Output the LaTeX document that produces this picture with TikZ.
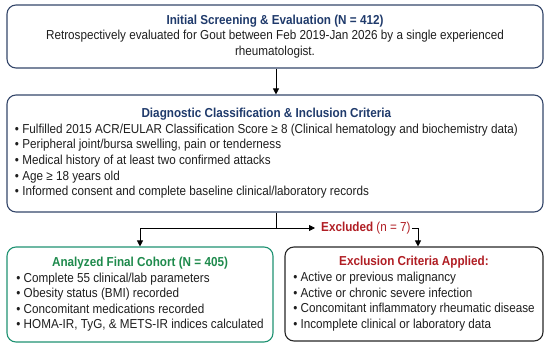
\documentclass[tikz,border=0pt]{standalone}
\usepackage{fontspec}
\setmainfont[FakeStretch=0.9]{Liberation Sans}
\usetikzlibrary{arrows.meta,positioning}

\definecolor{navyline}{HTML}{34466A}
\definecolor{navytext}{HTML}{1F3A6B}
\definecolor{cohortgreen}{HTML}{1E9272}
\definecolor{cohorttext}{HTML}{1E8A4C}
\definecolor{exclred}{HTML}{B01E24}
\definecolor{bodytext}{HTML}{1E1E1E}

\newcommand{\boxhead}[2]{\multicolumn{1}{@{}c@{}}{\color{#1}\bfseries #2}}

\begin{document}
\begin{tikzpicture}[x=1pt, y=-1pt,
  every node/.style={font=\fontsize{13}{15.6}\selectfont, text=bodytext},
  box/.style={draw, rounded corners=9pt, line width=1.1pt, inner sep=0pt},
  flow/.style={-{Triangle[width=6pt,length=6pt]}, line width=0.8pt, black}]
  \useasboundingbox (0,0) rectangle (550,347);

  % boxes
  \node[box, draw=navyline, minimum width=536, minimum height=63] (screen) at (275,36.5) {%
    \begin{tabular}{@{}c@{}}
      {\color{navytext}\bfseries Initial Screening \& Evaluation (N = 412)}\\
      Retrospectively evaluated for Gout between Feb 2019-Jan 2026 by a single experienced\\
      rheumatologist.
    \end{tabular}};
  \node[box, draw=navyline, minimum width=536, minimum height=117] (diag) at (275,153.5) {};
  \node[anchor=west] (diagtext) at ([xshift=5pt]diag.west) {%
    \begin{tabular}{@{}l@{}}
      \boxhead{navytext}{Diagnostic Classification \& Inclusion Criteria}\\
      • Fulfilled 2015 ACR/EULAR Classification Score ≥ 8 (Clinical hematology and biochemistry data)\\
      • Peripheral joint/bursa swelling, pain or tenderness\\
      • Medical history of at least two confirmed attacks\\
      • Age ≥ 18 years old\\
      • Informed consent and complete baseline clinical/laboratory records
    \end{tabular}};
  \node[box, draw=cohortgreen, minimum width=266, minimum height=95] (cohort) at (140,294.5) {%
    \begin{tabular}{@{}l@{}}
      \boxhead{cohorttext}{Analyzed Final Cohort (N = 405)}\\
      • Complete 55 clinical/lab parameters\\
      • Obesity status (BMI) recorded\\
      • Concomitant medications recorded\\
      • HOMA-IR, TyG, \& METS-IR indices calculated
    \end{tabular}};
  \node[box, draw=black!85, minimum width=258, minimum height=94] (exclbox) at (414,294) {%
    \begin{tabular}{@{}l@{}}
      \boxhead{exclred}{Exclusion Criteria Applied:}\\
      • Active or previous malignancy\\
      • Active or chronic severe infection\\
      • Concomitant inflammatory rheumatic disease\\
      • Incomplete clinical or laboratory data
    \end{tabular}};

  % split point and excluded label
  \coordinate (split) at (276,228);
  \node[anchor=west, inner sep=0pt, text=exclred] (excl) at (321,228) {\textbf{Excluded} (n = 7)};

  % connectors
  \draw[flow] (screen.south -| split) -- (diag.north -| split);
  \draw[line width=0.8pt] (diag.south -| split) -- (split);
  \draw[flow] (split) -| (cohort.north);
  \draw[flow] (split) -- ([xshift=-6pt]excl.west);
  \draw[flow] ([xshift=1pt]excl.east) -| ([xshift=4pt]exclbox.north);
\end{tikzpicture}
\end{document}
